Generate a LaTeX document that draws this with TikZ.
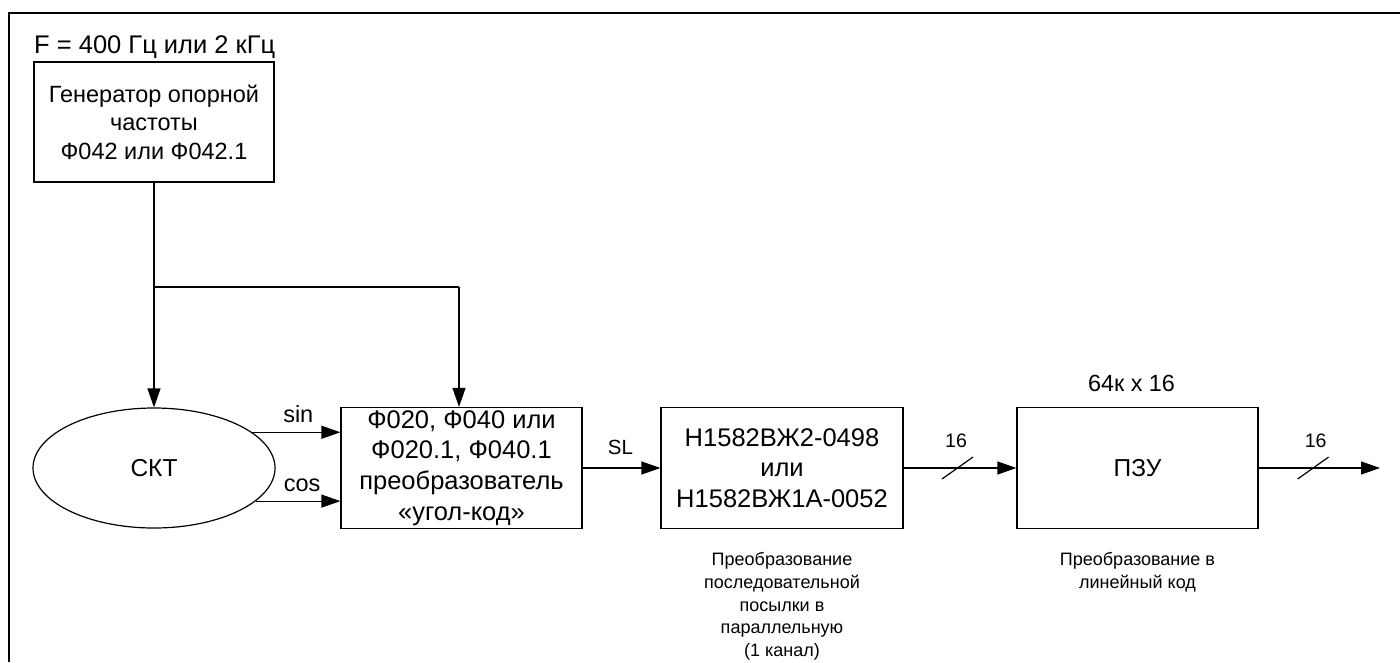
\documentclass[tikz,border=0pt]{standalone}
\usepackage{fontspec}
\setmainfont{Liberation Sans}
\usetikzlibrary{arrows.meta,shapes.geometric,calc}
\tikzset{
  blk/.style={draw,line width=1.2pt,rectangle,minimum width=241pt,minimum height=121pt,inner sep=0pt,align=center,font=\fontsize{25.5pt}{30.5pt}\selectfont},
  ell/.style={draw,line width=1.2pt,ellipse,minimum width=242pt,minimum height=120pt,inner sep=0pt,font=\fontsize{24.5pt}{30pt}\selectfont},
  conn/.style={line width=1.2pt,-{Triangle[length=19pt,width=13pt]}},
  wire/.style={line width=1.2pt},
  lbl/.style={font=\fontsize{18pt}{22.8pt}\selectfont,align=center,inner sep=0pt},
  sig/.style={font=\fontsize{23.5pt}{28pt}\selectfont,inner sep=0pt,anchor=base},
  bus/.style={font=\fontsize{19.5pt}{24pt}\selectfont,inner sep=0pt,anchor=base},
  frame/.style={line width=2.5pt}
}
\begin{document}
\begin{tikzpicture}[x=1pt,y=-1pt]
\useasboundingbox (0,0) rectangle (1400,662);
\draw[frame] (9,662) -- (9,13) -- (1402,13);

\node[font=\fontsize{25.5pt}{30pt}\selectfont,inner sep=0pt,anchor=base west] (ftext) at (34,53) {F = 400 Гц или 2 кГц};
\node[blk,minimum width=240pt,minimum height=120pt,font=\fontsize{23.5pt}{28.5pt}\selectfont] (gen) at (154,122) {Генератор опорной\\частоты\\Ф042 или Ф042.1};
\node[ell] (skt) at (154,468) {СКТ};
\node[blk,font=\fontsize{25.5pt}{30.7pt}\selectfont] (conv) at (461.5,468) {Ф020, Ф040 или\\Ф020.1, Ф040.1\\преобразователь\\«угол-код»};
\node[blk,minimum width=242pt] (ser) at (782,468) {Н1582ВЖ2-0498\\или\\Н1582ВЖ1А-0052};
\node[blk,font=\fontsize{24.5pt}{30pt}\selectfont] (rom) at (1137.5,468) {ПЗУ};

\coordinate (j1) at (154,287);
\coordinate (j2) at (459,287);
\coordinate (out) at (1380,468);

\draw[conn] (gen.south) -- (j1) -- (skt.north);
\draw[wire] (j1) -- (j2);
\draw[conn] (j2) -- (j2 |- conv.north);

\draw[conn] (skt.20.4) -- (skt.20.4 -| conv.west);
\node[sig] (sinl) at ($(skt.20.4)!0.5!(skt.20.4 -| conv.west)+(2,-10)$) {sin};
\draw[conn] (skt.-18.8) -- (skt.-18.8 -| conv.west);
\node[sig] (cosl) at ($(skt.-18.8)!0.5!(skt.-18.8 -| conv.west)+(4,-10)$) {cos};
\draw[conn] (conv.east) -- (ser.west);
\node[font=\fontsize{20.5pt}{24pt}\selectfont,inner sep=0pt,anchor=base] (sll) at ($(conv.east)!0.5!(ser.west)+(-1,-14)$) {SL};
\draw[conn] (ser.east) -- (rom.west);
\node[bus] (b1l) at ($(ser.east)!0.5!(rom.west)+(-4,-21)$) {16};
\draw[wire] ($(ser.east)!0.5!(rom.west)+(-18,11)$) -- ++(31,-22);
\draw[conn] (rom.east) -- (out);
\node[bus] (b2l) at ($(rom.east)!0.47!(out)+(0,-21)$) {16};
\draw[wire] ($(rom.east)!0.47!(out)+(-18,11)$) -- ++(31,-22);

\node[font=\fontsize{23.4pt}{28pt}\selectfont,inner sep=0pt,anchor=base] (cap) at ($(rom.north)+(-6,-15)$) {64к x 16};
\node[lbl,anchor=north] (d1) at ($(ser.south)+(0,23)$) {Преобразование\\последовательной\\посылки в\\параллельную\\(1 канал)};
\node[lbl,anchor=north] (d2) at ($(rom.south)+(0,23)$) {Преобразование в\\линейный код};
\end{tikzpicture}
\end{document}
